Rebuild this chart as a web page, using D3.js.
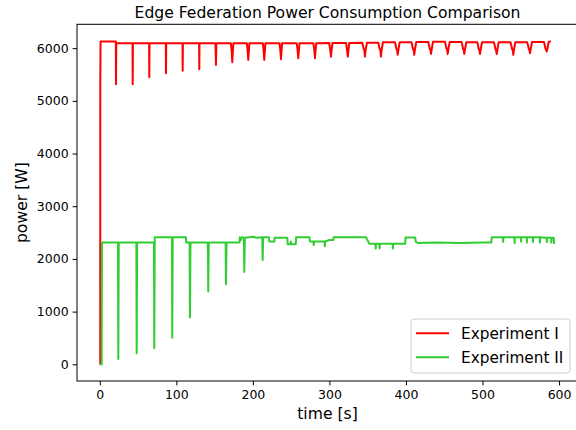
<!DOCTYPE html>
<html>
<head>
<meta charset="utf-8">
<script src="https://d3js.org/d3.v7.min.js"></script>
<style>
  body { margin: 0; background: #fff; }
  svg { display: block; font-family: "DejaVu Sans", sans-serif; }
</style>
</head>
<body>
<svg id="chart"></svg>
<script>
const title = 'Edge Federation Power Consumption Comparison'
const xLabel = 'time [s]'
const yLabel = 'power [W]'
const seriesNames = ['Experiment I', 'Experiment II']

const xTicks = [0, 100, 200, 300, 400, 500, 600]
const yTicks = [0, 1000, 2000, 3000, 4000, 5000, 6000]

// [time s, power W]
const expOne = [
  [0, 0], [0.6, 0], [0.65, 5300], [1.0, 6125],
  [21.0, 6125], [21.2, 5317], [21.5, 6095],
  [42.8, 6095], [43.0, 5317], [43.3, 6095],
  [64.5, 6095], [64.7, 5450], [65.0, 6095],
  [86.3, 6095], [86.5, 5525], [86.8, 6095],
  [108.1, 6095], [108.3, 5570], [108.6, 6095],
  [129.8, 6095], [130.0, 5600], [130.3, 6095],
  [151.0, 6095], [151.5, 5900], [151.8, 5683], [152.3, 6095],
  [171.2, 6095], [172.4, 5940], [173.1, 5734], [173.9, 5950], [174.6, 6095],
  [192.1, 6095], [193.3, 5940], [194.0, 5778], [194.8, 5950], [195.5, 6095],
  [213.0, 6095], [214.2, 5940], [214.9, 5778], [215.7, 5950], [216.4, 6095],
  [234.8, 6095], [236.0, 5940], [236.7, 5790], [237.5, 5950], [238.2, 6095],
  [257.2, 6095], [258.6, 5945], [259.3, 5810], [260.1, 5955], [261.0, 6095],
  [279.0, 6095], [280.4, 5945], [281.1, 5810], [281.9, 5955], [282.8, 6095],
  [299.7, 6100], [301.2, 5950], [302.0, 5840], [302.8, 5960], [304.0, 6100],
  [321.7, 6100], [323.2, 5950], [324.0, 5840], [324.8, 5960], [326.0, 6100],
  [342.9, 6105], [344.9, 5975], [345.8, 5950], [346.4, 5840], [347.2, 5955], [349.0, 6105],
  [363.8, 6105], [365.8, 5975], [366.7, 5950], [367.3, 5840], [368.1, 5955], [369.9, 6110],
  [385.7, 6110], [387.7, 5980], [388.6, 5955], [389.2, 5873], [390.0, 5960], [391.8, 6110],
  [407.3, 6110], [409.3, 5980], [410.2, 5955], [410.8, 5873], [411.6, 5960], [413.4, 6115],
  [429.2, 6115], [431.2, 5985], [432.1, 5960], [432.7, 5890], [433.5, 5965], [435.3, 6120],
  [451.0, 6120], [453.0, 5990], [453.9, 5965], [454.5, 5890], [455.3, 5970], [457.1, 6115],
  [472.7, 6115], [474.7, 5985], [475.6, 5960], [476.2, 5890], [477.0, 5965], [478.8, 6110],
  [493.2, 6110], [495.2, 5980], [496.1, 5955], [496.7, 5890], [497.5, 5960], [499.3, 6110],
  [515.0, 6110], [517.0, 5980], [517.9, 5955], [518.5, 5890], [519.3, 5960], [521.1, 6110],
  [536.7, 6110], [538.7, 5980], [539.6, 5955], [540.2, 5873], [541.0, 5960], [542.8, 6110],
  [558.5, 6110], [560.5, 5985], [561.4, 5960], [562.0, 5905], [562.8, 5965], [564.6, 6115],
  [580.3, 6115], [582.3, 5995], [583.2, 5970], [583.8, 5935], [584.6, 5975], [586.4, 6120],
  [589.4, 6125]
]

const expTwo = [
  [0, 0], [2.5, 0], [2.8, 2310],
  [23.8, 2310], [24.2, 100], [24.8, 2310],
  [47.8, 2310], [48.2, 210], [48.8, 2310],
  [70.8, 2310], [71.2, 303], [71.8, 2410],
  [94.3, 2410], [94.7, 505], [95.3, 2410],
  [112.5, 2410], [113.0, 2310],
  [117.3, 2310], [117.8, 890], [118.5, 2310],
  [141.0, 2310], [141.4, 2100], [141.7, 1380], [142.4, 2310],
  [164.4, 2310], [164.9, 1520], [165.6, 2310],
  [182.5, 2310], [183.0, 2410], [184.5, 2360], [185.5, 2410],
  [188.3, 2400], [188.8, 1750], [189.5, 2400],
  [200.0, 2420], [205.0, 2400],
  [212.3, 2410], [212.8, 1980], [213.5, 2410],
  [221.0, 2410], [221.5, 2330], [228.0, 2330], [228.5, 2400],
  [245.0, 2400], [245.5, 2280], [249.0, 2280], [249.5, 2330], [250.0, 2280],
  [256.0, 2280], [256.5, 2410], [274.0, 2410], [274.5, 2330],
  [279.0, 2330], [279.5, 2260], [280.0, 2330],
  [293.5, 2330], [294.0, 2240], [294.5, 2330], [300.0, 2360], [305.0, 2360],
  [305.5, 2410], [348.0, 2410], [352.0, 2290],
  [360.0, 2290], [360.5, 2200], [361.0, 2290],
  [365.0, 2290], [365.5, 2200], [366.0, 2290],
  [382.5, 2290], [383.0, 2200], [383.5, 2290],
  [399.0, 2290], [399.5, 2405], [412.0, 2405], [413.0, 2320], [416.0, 2300],
  [440.0, 2310], [470.0, 2300], [500.0, 2310], [511.5, 2310], [512.0, 2410],
  [526.7, 2410], [527.0, 2320], [527.3, 2410],
  [541.7, 2410], [542.0, 2300], [542.3, 2410],
  [550.0, 2410], [550.3, 2330], [550.6, 2410],
  [557.6, 2410], [558.0, 2310], [558.3, 2410],
  [565.7, 2410], [566.0, 2320], [566.3, 2410],
  [574.7, 2410], [575.0, 2310], [575.3, 2410],
  [583.7, 2400], [584.0, 2320], [584.3, 2400],
  [589.7, 2400], [590.0, 2310], [590.3, 2400],
  [593.0, 2400], [593.5, 2300], [594.6, 2300]
]

const colors = ['#ff0000', '#32cd32']

const w = 576
const h = 430
const axLeft = 77
const axRight = 578
const axTop = 24.3
const axBottom = 381

let svg = d3.select('#chart')
            .attr('width', w)
            .attr('height', h)

svg.append('rect')
   .attr('width', w)
   .attr('height', h)
   .attr('fill', '#fff')

let xScale = d3.scaleLinear()
               .domain([-29.75, 624.75])
               .range([axLeft, axRight])

let yScale = d3.scaleLinear()
               .domain([-317, 6453])
               .range([axBottom, axTop])

let line = d3.line()
             .x(d => xScale(d[0]))
             .y(d => yScale(d[1]))

let plot = svg.append('g')

;[expOne, expTwo].forEach((series, i) => {
    plot.append('path')
        .datum(series)
        .attr('d', line)
        .attr('fill', 'none')
        .attr('stroke', colors[i])
        .attr('stroke-width', 2)
        .attr('stroke-linejoin', 'round')
})

// axes
let xAxis = d3.axisBottom(xScale)
              .tickValues(xTicks)
              .tickFormat(d3.format('d'))
              .tickSize(4.4)
              .tickSizeOuter(0)
              .tickPadding(5)

let yAxis = d3.axisLeft(yScale)
              .tickValues(yTicks)
              .tickFormat(d3.format('d'))
              .tickSize(4.4)
              .tickSizeOuter(0)
              .tickPadding(4)

svg.append('g')
   .attr('transform', 'translate(0,' + axBottom + ')')
   .call(xAxis)
   .call(g => g.select('.domain').remove())
   .selectAll('text')
   .style('font-size', '12.5px')
   .style('font-family', '"DejaVu Sans", sans-serif')
   .attr('fill', '#000')

svg.append('g')
   .attr('transform', 'translate(' + axLeft + ',0)')
   .call(yAxis)
   .call(g => g.select('.domain').remove())
   .selectAll('text')
   .style('font-size', '12.5px')
   .style('font-family', '"DejaVu Sans", sans-serif')
   .attr('fill', '#000')

svg.selectAll('.tick line').attr('stroke', '#000').attr('stroke-width', 1)

svg.append('rect')
   .attr('x', axLeft)
   .attr('y', axTop)
   .attr('width', axRight - axLeft)
   .attr('height', axBottom - axTop)
   .attr('fill', 'none')
   .attr('stroke', '#000')
   .attr('stroke-width', 1)

// labels
svg.append('text')
   .attr('x', (axLeft + axRight) / 2)
   .attr('y', 18)
   .attr('text-anchor', 'middle')
   .style('font-size', '15.6px')
   .text(title)

svg.append('text')
   .attr('x', (axLeft + axRight) / 2)
   .attr('y', 419)
   .attr('text-anchor', 'middle')
   .style('font-size', '15.6px')
   .text(xLabel)

svg.append('text')
   .attr('transform', 'translate(27,' + ((axTop + axBottom) / 2) + ') rotate(-90)')
   .attr('text-anchor', 'middle')
   .style('font-size', '15.6px')
   .text(yLabel)

// legend
let legend = svg.append('g')
                .attr('transform', 'translate(411,319)')

legend.append('rect')
      .attr('width', 159)
      .attr('height', 54)
      .attr('rx', 3)
      .attr('fill', '#fff')
      .attr('fill-opacity', 0.8)
      .attr('stroke', '#cccccc')
      .attr('stroke-width', 1)

seriesNames.forEach((name, i) => {
    let y = 14.3 + i * 24
    legend.append('line')
          .attr('x1', 5)
          .attr('x2', 38)
          .attr('y1', y)
          .attr('y2', y)
          .attr('stroke', colors[i])
          .attr('stroke-width', 2)
    legend.append('text')
          .attr('x', 50)
          .attr('y', y + 5.3)
          .style('font-size', '15.3px')
          .text(name)
})
</script>
</body>
</html>
